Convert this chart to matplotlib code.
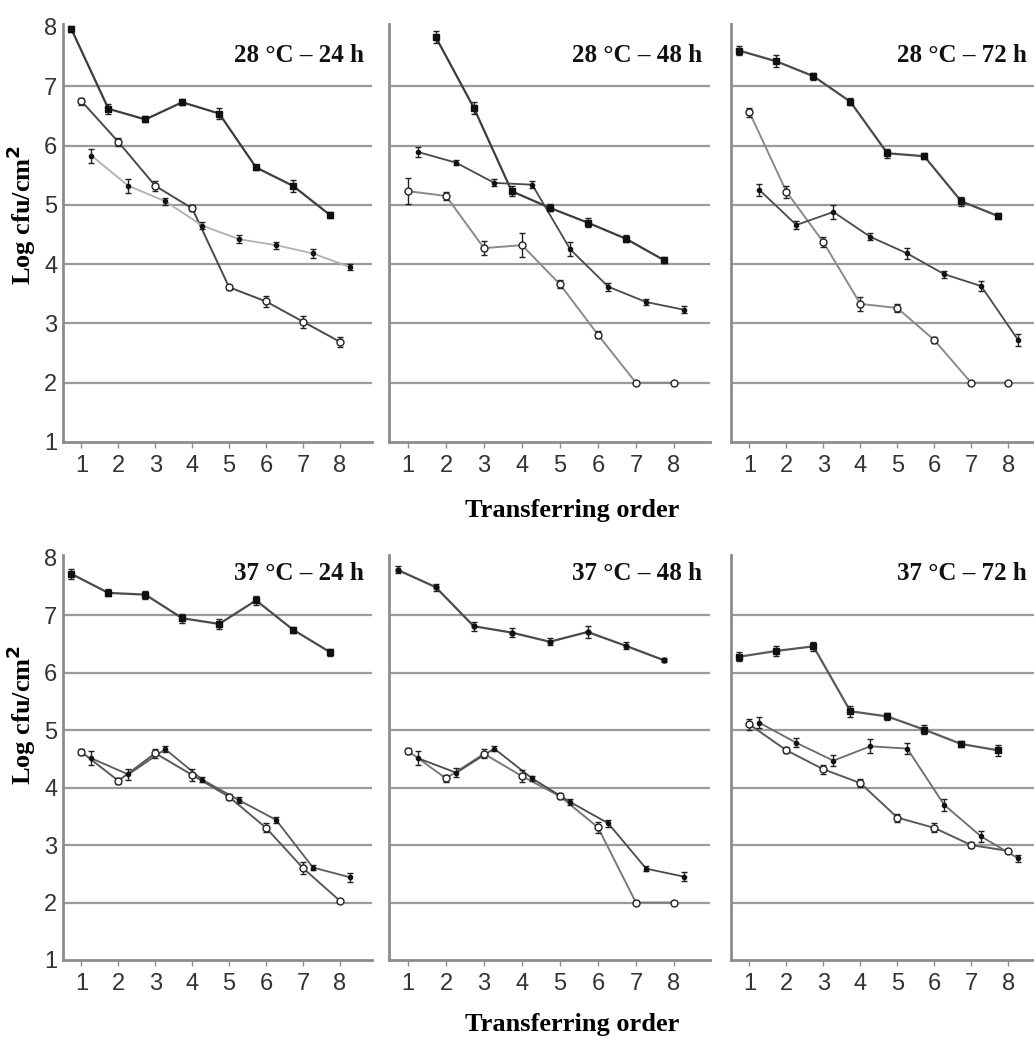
import matplotlib
matplotlib.use("Agg")
import matplotlib.pyplot as plt
import numpy as np

# transferring order
transfers = [1, 2, 3, 4, 5, 6, 7, 8]

# 28 C - 24 h
t28_24_sq = [7.96, 6.62, 6.44, 6.73, 6.54, 5.63, 5.32, 4.83]
t28_24_sq_err = [0.05, 0.08, 0.05, 0.05, 0.1, 0.05, 0.1, 0.05]
t28_24_open = [6.75, 6.06, 5.32, 4.94, 3.61, 3.37, 3.03, 2.69]
t28_24_open_err = [0.06, 0.06, 0.08, 0.05, 0.04, 0.1, 0.1, 0.08]
t28_24_dot = [5.83, 5.32, 5.06, 4.65, 4.42, 4.32, 4.18, 3.95]
t28_24_dot_err = [0.12, 0.12, 0.06, 0.06, 0.07, 0.06, 0.08, 0.05]

# 28 C - 48 h (filled series starts at transfer 2)
t28_48_sq = [None, 7.83, 6.64, 5.23, 4.95, 4.70, 4.43, 4.07]
t28_48_sq_err = [0, 0.1, 0.1, 0.08, 0.06, 0.08, 0.06, 0.05]
t28_48_open = [5.23, 5.15, 4.27, 4.32, 3.66, 2.81, 2.0, 2.0]
t28_48_open_err = [0.22, 0.07, 0.12, 0.2, 0.07, 0.06, 0.02, 0.02]
t28_48_dot = [5.89, 5.71, 5.37, 5.34, 4.25, 3.62, 3.36, 3.23]
t28_48_dot_err = [0.08, 0.04, 0.06, 0.06, 0.12, 0.07, 0.05, 0.06]

# 28 C - 72 h
t28_72_sq = [7.60, 7.42, 7.17, 6.74, 5.87, 5.82, 5.06, 4.81]
t28_72_sq_err = [0.08, 0.1, 0.06, 0.06, 0.08, 0.05, 0.08, 0.05]
t28_72_open = [6.56, 5.22, 4.37, 3.33, 3.26, 2.72, 2.0, 2.0]
t28_72_open_err = [0.08, 0.1, 0.08, 0.12, 0.06, 0.05, 0.02, 0.02]
t28_72_dot = [5.25, 4.66, 4.88, 4.46, 4.18, 3.83, 3.63, 2.72]
t28_72_dot_err = [0.1, 0.06, 0.12, 0.06, 0.1, 0.06, 0.08, 0.1]

# 37 C - 24 h
t37_24_sq = [7.72, 7.39, 7.36, 6.95, 6.85, 7.26, 6.75, 6.36]
t37_24_sq_err = [0.08, 0.06, 0.07, 0.08, 0.08, 0.08, 0.05, 0.06]
t37_24_open = [4.62, 4.12, 4.60, 4.22, 3.84, 3.30, 2.60, 2.03]
t37_24_open_err = [0.06, 0.05, 0.08, 0.1, 0.05, 0.08, 0.1, 0.02]
t37_24_dot = [4.51, 4.23, 4.67, 4.14, 3.78, 3.44, 2.61, 2.44]
t37_24_dot_err = [0.12, 0.1, 0.05, 0.05, 0.05, 0.05, 0.04, 0.08]

# 37 C - 48 h
t37_48_sq = [7.79, 7.49, 6.81, 6.70, 6.54, 6.71, 6.47, 6.22]
t37_48_sq_err = [0.06, 0.06, 0.08, 0.08, 0.06, 0.1, 0.06, 0.04]
t37_48_open = [4.64, 4.16, 4.59, 4.20, 3.85, 3.31, 2.0, 2.0]
t37_48_open_err = [0.05, 0.06, 0.08, 0.1, 0.05, 0.1, 0.02, 0.02]
t37_48_dot = [4.51, 4.26, 4.68, 4.16, 3.75, 3.38, 2.59, 2.45]
t37_48_dot_err = [0.12, 0.08, 0.05, 0.05, 0.05, 0.06, 0.04, 0.08]

# 37 C - 72 h
t37_72_sq = [6.28, 6.38, 6.46, 5.33, 5.24, 5.01, 4.76, 4.65]
t37_72_sq_err = [0.08, 0.08, 0.08, 0.1, 0.06, 0.08, 0.06, 0.1]
t37_72_open = [5.10, 4.65, 4.32, 4.08, 3.48, 3.30, 3.00, 2.90]
t37_72_open_err = [0.1, 0.05, 0.08, 0.07, 0.07, 0.08, 0.05, 0.04]
t37_72_dot = [5.13, 4.78, 4.47, 4.72, 4.68, 3.70, 3.15, 2.77]
t37_72_dot_err = [0.1, 0.08, 0.1, 0.12, 0.1, 0.1, 0.1, 0.06]

titles = ["28 °C – 24 h", "28 °C – 48 h", "28 °C – 72 h",
          "37 °C – 24 h", "37 °C – 48 h", "37 °C – 72 h"]

panels = [
    (t28_24_sq, t28_24_sq_err, t28_24_open, t28_24_open_err, t28_24_dot, t28_24_dot_err),
    (t28_48_sq, t28_48_sq_err, t28_48_open, t28_48_open_err, t28_48_dot, t28_48_dot_err),
    (t28_72_sq, t28_72_sq_err, t28_72_open, t28_72_open_err, t28_72_dot, t28_72_dot_err),
    (t37_24_sq, t37_24_sq_err, t37_24_open, t37_24_open_err, t37_24_dot, t37_24_dot_err),
    (t37_48_sq, t37_48_sq_err, t37_48_open, t37_48_open_err, t37_48_dot, t37_48_dot_err),
    (t37_72_sq, t37_72_sq_err, t37_72_open, t37_72_open_err, t37_72_dot, t37_72_dot_err),
]

# line colours per panel: (filled, open, dot)
line_cols = [
    ("#3c3c3c", "#4a4a4a", "#b0b0b0"),
    ("#3c3c3c", "#8a8a8a", "#4a4a4a"),
    ("#4a4a4a", "#8a8a8a", "#4a4a4a"),
    ("#4a4a4a", "#5a5a5a", "#5a5a5a"),
    ("#4a4a4a", "#7a7a7a", "#4a4a4a"),
    ("#5a5a5a", "#5a5a5a", "#6a6a6a"),
]
# marker of the first series per panel (37 C - 48 h uses small dots)
first_marker = ["s", "s", "s", "s", ".", "s"]

W, H = 1034, 1037
fig = plt.figure(figsize=(W / 100, H / 100), dpi=100)
fig.patch.set_facecolor("white")

tick_font = ["Liberation Sans", "DejaVu Sans"]
serif = "Liberation Serif"

lefts = [63, 389, 731]
widths = [309, 321, 303]
rows = [(442, 24), (960, 555)]  # (bottom px, top px)
xright = [8.87, 8.95, 8.7]
ylab_y = [0.543, 0.605]

for i, (sq, sq_e, op, op_e, dt, dt_e) in enumerate(panels):
    r, c = divmod(i, 3)
    bot, top = rows[r]
    ax = fig.add_axes([lefts[c] / W, (H - bot) / H, widths[c] / W, (bot - top) / H])
    ax.set_xlim(0.5, xright[c])
    ax.set_ylim(1, 8.05)
    for y in range(2, 8):
        ax.axhline(y, color="#9a9a9a", lw=1.6, zorder=0)
    for s in ["top", "right"]:
        ax.spines[s].set_visible(False)
    for s in ["left", "bottom"]:
        ax.spines[s].set_color("#8c8c8c")
        ax.spines[s].set_linewidth(2)

    x = np.array(transfers, dtype=float)
    sq_arr = np.array([np.nan if v is None else v for v in sq])
    lc = line_cols[i]
    # filled series (offset left)
    ax.plot(x - 0.27, sq_arr, color=lc[0], lw=1.6, zorder=2)
    ax.errorbar(x - 0.27, sq_arr, yerr=sq_e, fmt=first_marker[i], ms=5 if first_marker[i] == "s" else 7,
                color="#111111", ecolor="#222222", elinewidth=1, capsize=2.5, zorder=3)
    # open circles
    ax.plot(x, op, color=lc[1], lw=1.4, zorder=2)
    ax.errorbar(x, op, yerr=op_e, fmt="o", ms=5, mfc="white", mec="#222222", mew=1,
                ecolor="#222222", elinewidth=1, capsize=2.5, zorder=3)
    # small dots (offset right)
    ax.plot(x + 0.27, dt, color=lc[2], lw=1.3, zorder=2)
    ax.errorbar(x + 0.27, dt, yerr=dt_e, fmt=".", ms=6, color="#111111",
                ecolor="#222222", elinewidth=1, capsize=2.5, zorder=3)

    ax.set_xticks(transfers)
    ax.set_xticklabels([str(t) for t in transfers], family=tick_font, fontsize=17, color="#333333")
    ax.tick_params(axis="x", length=4, width=1, color="#8c8c8c", pad=5)
    if c == 0:
        ax.set_yticks(range(1, 9))
        ax.set_yticklabels([str(v) for v in range(1, 9)], family=tick_font, fontsize=17, color="#333333")
        ax.tick_params(axis="y", length=0, pad=4)
        ax.set_ylabel("Log cfu/cm$^\\mathbf{2}$", family=serif, fontweight="bold", fontsize=19)
        ax.yaxis.set_label_coords(-0.08, ylab_y[r])
    else:
        ax.set_yticks([])
    ty = 0.925 if r == 0 else 0.955
    ax.text(0.975, ty, titles[i], transform=ax.transAxes, ha="right", va="center",
            family=serif, fontweight="bold", fontsize=18, color="#111111")

fig.text(572 / W, 1 - 510 / H, "Transferring order", ha="center", va="center",
         family=serif, fontweight="bold", fontsize=19)
fig.text(572 / W, 1 - 1024 / H, "Transferring order", ha="center", va="center",
         family=serif, fontweight="bold", fontsize=19)

fig.savefig("out.png", dpi=100)
